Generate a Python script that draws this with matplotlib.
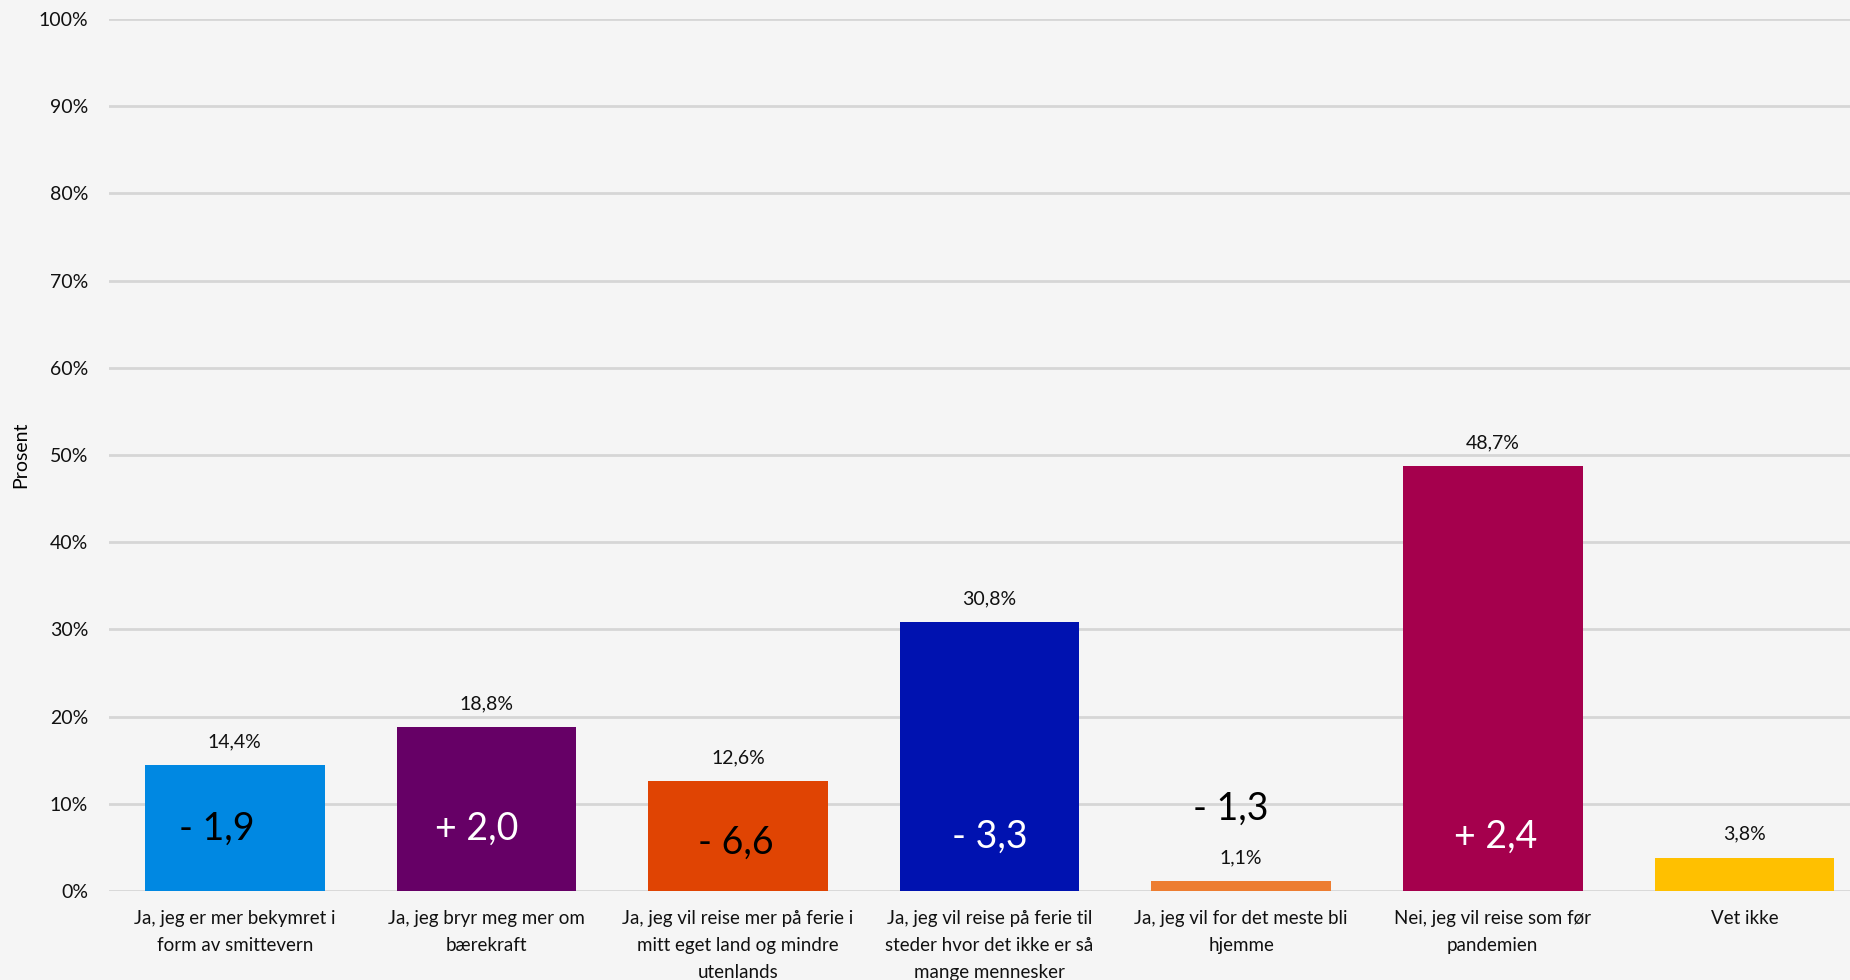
import numpy as np
import matplotlib.pyplot as plt
from matplotlib.ticker import PercentFormatter

plt.rcParams['font.family'] = ['Lato', 'DejaVu Sans']

categories = [
    "Ja, jeg er mer bekymret i\nform av smittevern",
    "Ja, jeg bryr meg mer om\nbærekraft",
    "Ja, jeg vil reise mer på ferie i\nmitt eget land og mindre\nutenlands",
    "Ja, jeg vil reise på ferie til\nsteder hvor det ikke er så\nmange mennesker",
    "Ja, jeg vil for det meste bli\nhjemme",
    "Nei, jeg vil reise som før\npandemien",
    "Vet ikke",
]
values = [14.4, 18.8, 12.6, 30.8, 1.1, 48.7, 3.8]
changes = ["- 1,9", "+ 2,0", "- 6,6", "- 3,3", "- 1,3", "+ 2,4", ""]
colors = ["#0088E2", "#660066", "#E04403", "#0012B0", "#ED7D31", "#A5004D", "#FFC000"]
change_colors = ["black", "white", "black", "white", "black", "white", "black"]
# manual placement of the change labels (x offset, y in %)
change_dx = [-0.07, -0.04, -0.01, 0.0, -0.04, 0.01, 0.0]
change_y = [7.1, 7.1, 5.5, 6.2, 9.4, 6.2, 0.0]

bg = "#F5F5F5"
fig = plt.figure(figsize=(18.5, 9.8), dpi=100, facecolor=bg)
ax = fig.add_axes([0.0589, 0.0908, 0.9411, 0.8898], facecolor=bg)

x = np.arange(len(values))
ax.bar(x, values, width=0.714, color=colors, zorder=3)

ax.set_ylim(0, 100)
ax.set_xlim(-0.5, 6.42)
ax.set_yticks(np.arange(0, 101, 10))
ax.yaxis.set_major_formatter(PercentFormatter(decimals=0))
ax.grid(axis='y', color='#D6D6D6', linewidth=2, zorder=0)
ax.set_axisbelow(True)
for s in ax.spines.values():
    s.set_visible(False)

ax.tick_params(axis='y', length=0, pad=15, labelsize=14, labelcolor='#111111')
ax.tick_params(axis='x', length=0, pad=13.5, labelsize=13.5, labelcolor='#111111')
ax.set_xticks(x)
ax.set_xticklabels(categories, linespacing=1.72, va='top')

ax.set_ylabel("Prosent", fontsize=14)
ax.yaxis.set_label_coords(-0.046, 0.5)

for i, v in enumerate(values):
    ax.annotate(f"{v:.1f}".replace(".", ",") + "%", (x[i], v), xytext=(0, 17),
                textcoords='offset points', ha='center', va='center',
                fontsize=14, color='#111111')
    if changes[i]:
        ax.text(x[i] + change_dx[i], change_y[i], changes[i], ha='center', va='center',
                fontsize=27, color=change_colors[i], zorder=4)

fig.savefig("out.png", dpi=100, facecolor=bg)
